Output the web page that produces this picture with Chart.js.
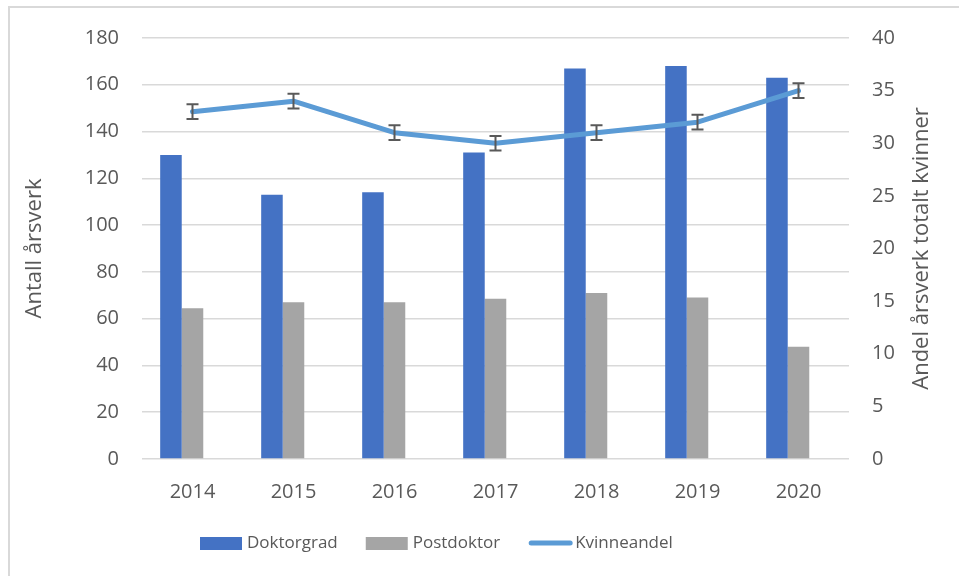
<!DOCTYPE html>
<html>
<head>
<meta charset="utf-8">
<title>Årsverk</title>
<script src="https://cdn.jsdelivr.net/npm/chart.js@4.4.1/dist/chart.umd.min.js"></script>
<style>
  html, body { margin: 0; padding: 0; background: #fff; overflow: hidden; }
  #frame { position: absolute; left: 8px; top: 6px; width: 1200px; height: 800px; border: 2px solid #d9d9d9; }
  #wrap { position: absolute; left: 0; top: 0; width: 959px; height: 576px; }
</style>
</head>
<body>
<div id="frame"></div>
<div id="wrap"><canvas id="chart" width="959" height="576"></canvas></div>
<script>
/* global Chart */

// data
const years = ['2014', '2015', '2016', '2017', '2018', '2019', '2020']
const doktorgrad = [130, 113, 114, 131, 167, 168, 163]
const postdoktor = [64.5, 67, 67, 68.5, 71, 69, 48]
const kvinneandel = [33, 34, 31, 30, 31, 32, 35]
const kvinneFeil = [0.7, 0.7, 0.7, 0.7, 0.7, 0.7, 0.7]
const skjult = [null, null, null, null, null, null, null] // empty third bar slot, as in the original
const rightTitle = 'Andel årsverk totalt kvinner'

const grey = '#595959'
const gridGrey = '#d9d9d9'

Chart.defaults.font.family = '"Open Sans", "Noto Sans", sans-serif'
Chart.defaults.color = grey

// error bars on the line
const errorBars = {
  id: 'errorBars',
  afterDatasetsDraw (chart) {
    const meta = chart.getDatasetMeta(3)
    const yScale = chart.scales.y1
    const ctx = chart.ctx
    ctx.save()
    ctx.strokeStyle = grey
    ctx.lineWidth = 2
    meta.data.forEach((pt, i) => {
      const top = yScale.getPixelForValue(kvinneandel[i] + kvinneFeil[i])
      const bot = yScale.getPixelForValue(kvinneandel[i] - kvinneFeil[i])
      ctx.beginPath()
      ctx.moveTo(pt.x, top)
      ctx.lineTo(pt.x, bot)
      ctx.moveTo(pt.x - 6, top)
      ctx.lineTo(pt.x + 6, top)
      ctx.moveTo(pt.x - 6, bot)
      ctx.lineTo(pt.x + 6, bot)
      ctx.stroke()
    })
    ctx.restore()
  }
}

// right axis title reads bottom-to-top in the original, chart.js turns it the other way
const rightAxisTitle = {
  id: 'rightAxisTitle',
  afterDraw (chart) {
    const ctx = chart.ctx
    const area = chart.chartArea
    ctx.save()
    ctx.translate(922, (area.top + area.bottom) / 2)
    ctx.rotate(-Math.PI / 2)
    ctx.font = '22px "Open Sans"'
    ctx.fillStyle = grey
    ctx.textAlign = 'center'
    ctx.textBaseline = 'middle'
    ctx.fillText(rightTitle, 0, 0)
    ctx.restore()
  }
}

// legend like the excel one
const bottomLegend = {
  id: 'bottomLegend',
  afterDraw (chart) {
    const ctx = chart.ctx
    const y = 543
    let x = 200
    ctx.save()
    ctx.font = '17px "Open Sans"'
    ctx.textBaseline = 'middle'
    chart.data.datasets.forEach(ds => {
      if (!ds.label) return
      if (ds.type === 'line') {
        ctx.strokeStyle = ds.borderColor
        ctx.lineWidth = 5
        ctx.lineCap = 'round'
        ctx.beginPath()
        ctx.moveTo(x + 3, y)
        ctx.lineTo(x + 42, y)
        ctx.stroke()
      } else {
        ctx.fillStyle = ds.backgroundColor
        ctx.fillRect(x, y - 6, 42, 13)
      }
      x += 47
      ctx.fillStyle = grey
      ctx.fillText(ds.label, x, y)
      x += ctx.measureText(ds.label).width + 28
    })
    ctx.restore()
  }
}

// eslint-disable-next-line no-unused-vars
const chart = new Chart(document.getElementById('chart'), {
  data: {
    labels: years,
    datasets: [
      {
        type: 'bar',
        label: 'Doktorgrad',
        data: doktorgrad,
        backgroundColor: '#4472c4',
        yAxisID: 'y',
        order: 1
      },
      {
        type: 'bar',
        label: 'Postdoktor',
        data: postdoktor,
        backgroundColor: '#a5a5a5',
        yAxisID: 'y',
        order: 1
      },
      {
        type: 'bar',
        label: '',
        data: skjult,
        backgroundColor: 'rgba(0,0,0,0)',
        yAxisID: 'y',
        order: 1
      },
      {
        type: 'line',
        label: 'Kvinneandel',
        data: kvinneandel,
        borderColor: '#5b9bd5',
        backgroundColor: '#5b9bd5',
        borderWidth: 5,
        borderCapStyle: 'round',
        borderJoinStyle: 'round',
        pointRadius: 0,
        tension: 0,
        yAxisID: 'y1',
        order: 0
      }
    ]
  },
  options: {
    responsive: false,
    animation: false,
    layout: { padding: { top: 38, left: 0, right: 0, bottom: 0 } },
    datasets: {
      bar: { categoryPercentage: 0.64, barPercentage: 1 }
    },
    plugins: {
      legend: { display: false },
      tooltip: { enabled: false }
    },
    scales: {
      x: {
        grid: { display: false },
        border: { display: false },
        ticks: { font: { size: 20 }, padding: 13 },
        afterFit: s => { s.height = 117 }
      },
      y: {
        position: 'left',
        min: 0,
        max: 180,
        ticks: { stepSize: 20, font: { size: 20 }, padding: 23 },
        grid: { color: gridGrey, lineWidth: 1.5, drawTicks: false },
        border: { display: false },
        title: { display: true, text: 'Antall årsverk', font: { size: 22 }, padding: { top: 22 } },
        afterFit: s => { s.width = 142 }
      },
      y1: {
        position: 'right',
        min: 0,
        max: 40,
        ticks: { stepSize: 5, font: { size: 20 }, padding: 23 },
        grid: { drawOnChartArea: false, drawTicks: false },
        border: { display: false },
        afterFit: s => { s.width = 110 }
      }
    }
  },
  plugins: [errorBars, rightAxisTitle, bottomLegend]
})
</script>
</body>
</html>
